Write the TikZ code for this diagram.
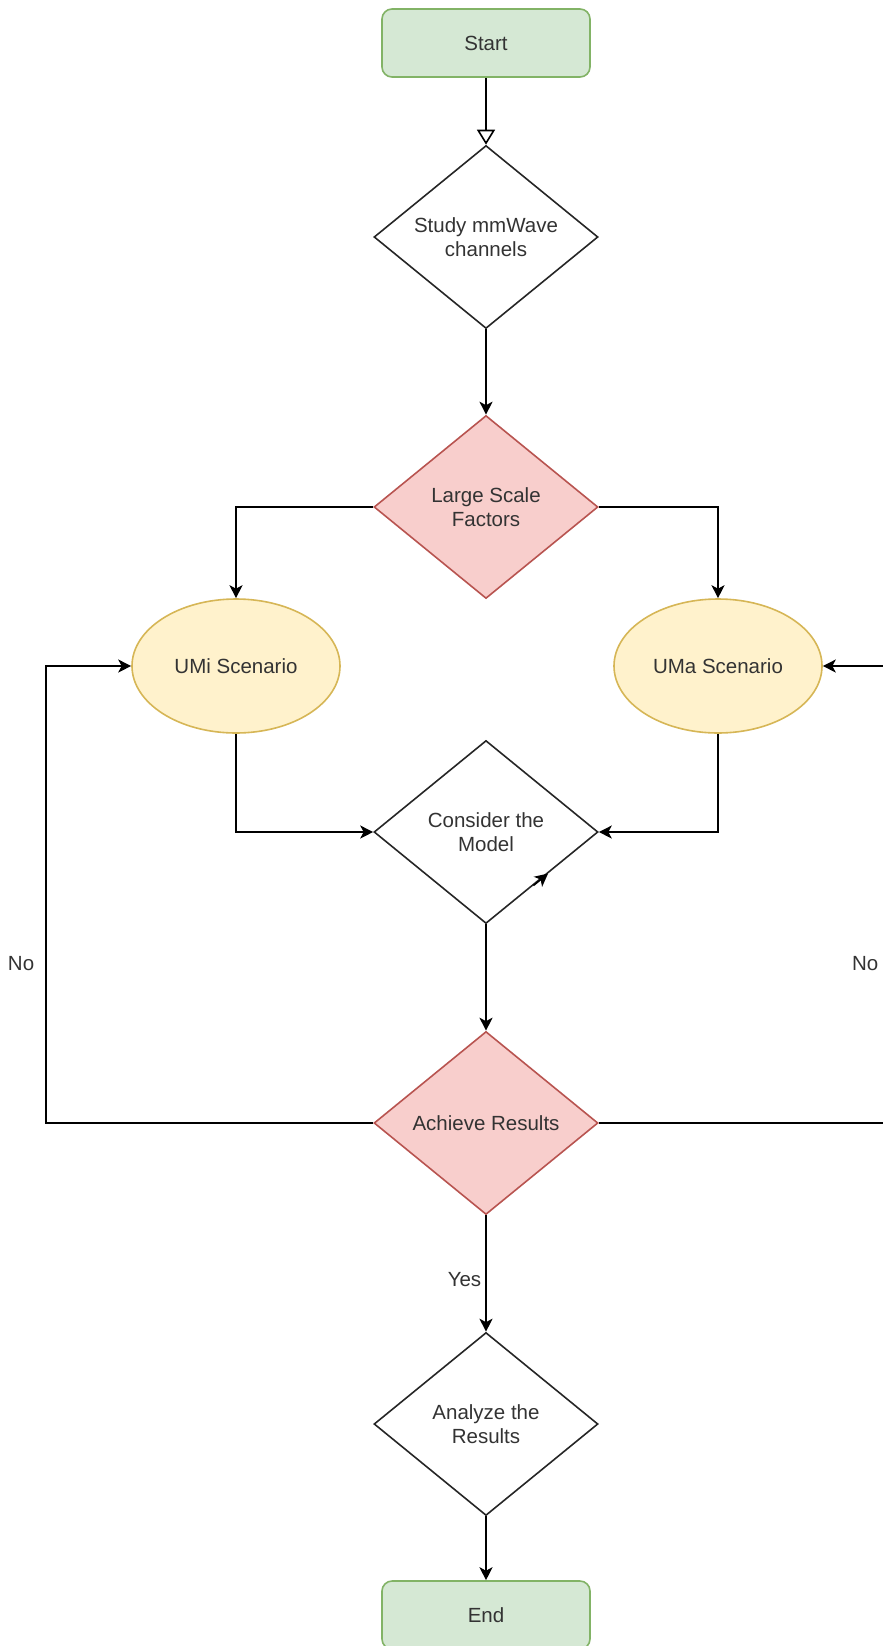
\documentclass[tikz,border=0pt]{standalone}
\usepackage{fontspec}
\setmainfont{Liberation Sans}
\usetikzlibrary{shapes.geometric,arrows.meta,calc}
\definecolor{greenfill}{HTML}{D5E8D4}
\definecolor{greenline}{HTML}{82B366}
\definecolor{redfill}{HTML}{F8CECC}
\definecolor{redline}{HTML}{B85450}
\definecolor{yellowfill}{HTML}{FFF2CC}
\definecolor{yellowline}{HTML}{D6B656}
\begin{document}
\begin{tikzpicture}[x=1pt,y=-1pt,
    every node/.style={font=\fontsize{20.5}{23.5}\selectfont, text=black!80, align=center},
    line/.style={line width=1.6pt, -{Stealth[length=13pt,width=13pt,inset=3.5pt]}},
    terminal/.style={draw=greenline, fill=greenfill, line width=1.6pt, rounded corners=10pt, minimum width=208pt, minimum height=68pt},
    decision/.style={diamond, aspect=1.22, draw=black!85, line width=1.6pt, inner sep=0pt, minimum width=224pt, minimum height=183pt},
    hot/.style={decision, draw=redline, fill=redfill},
    scenario/.style={ellipse, draw=yellowline, fill=yellowfill, line width=1.6pt, minimum width=208pt, minimum height=134pt},
    lbl/.style={inner sep=1pt}]
    \useasboundingbox (0,0) rectangle (883,1646);
    \clip (0,0) rectangle (883,1646);

    \node[terminal] (start) at (486,43) {Start};
    \node[decision] (study) at (486,237) {Study mmWave\\channels};
    \node[hot] (lsf) at (486,507) {Large Scale\\Factors};
    \node[scenario] (umi) at (236,666) {UMi Scenario};
    \node[scenario] (uma) at (718,666) {UMa Scenario};
    \node[decision] (model) at (486,832) {Consider the\\Model};
    \node[hot] (achieve) at (486,1123) {Achieve Results};
    \node[decision] (analyze) at (486,1424) {Analyze the\\Results};
    \node[terminal] (end) at (486,1615) {End};
    \coordinate (west) at (46,1123);
    \coordinate (east) at (890,1123);

    \draw[line, -{Triangle[open,length=15pt,width=18pt]}] (start) -- (study);
    \draw[line] (study) -- (lsf);
    \draw[line] (lsf.west) -| (umi.north); \draw[line] (lsf.east) -| (uma.north);
    \draw[line] (umi.south) |- (model.west); \draw[line] (uma.south) |- (model.east);
    \draw[line] ($(model.south)!0.42!(model.east)$) -- ($(model.south)!0.55!(model.east)$);
    \draw[line] (model) -- (achieve);
    \draw[line] (achieve.west) -- (west) -- node[lbl, pos=0.35, left=10pt] {No} (west |- umi.west) -- (umi.west);
    \draw[line] (achieve.east) -- (east) -- node[lbl, pos=0.35, left=10pt] {No} (east |- uma.east) -- (uma.east);
    \draw[line] (achieve) -- node[lbl, pos=0.55, left=3pt] {Yes} (analyze);
    \draw[line] (analyze) -- (end);
\end{tikzpicture}
\end{document}
